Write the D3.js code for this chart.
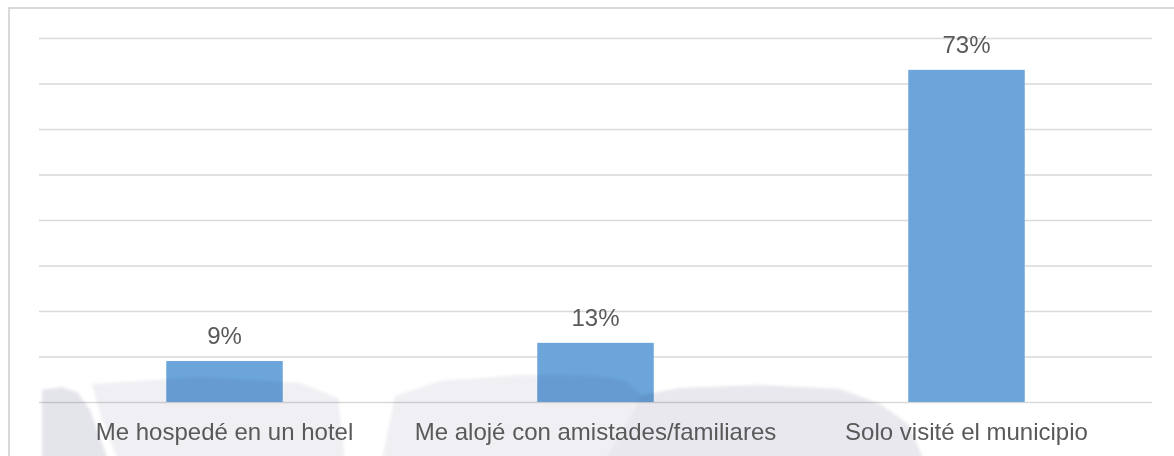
<!DOCTYPE html>
<html>
<head>
<meta charset="utf-8">
<script src="https://cdn.jsdelivr.net/npm/d3@7"></script>
<style>
  html, body { margin: 0; padding: 0; background: #ffffff; }
  svg { display: block; }
</style>
</head>
<body>
<svg id="chart" width="1174" height="456"></svg>
<script>
const categories = ["Me hospedé en un hotel", "Me alojé con amistades/familiares", "Solo visité el municipio"];
const values = [9, 13, 73];
const valueLabels = ["9%", "13%", "73%"];
const yTicks = [0, 10, 20, 30, 40, 50, 60, 70, 80];

const svg = d3.select("#chart");
const W = 1174, H = 456;
const margin = { left: 39, right: W - 1152, top: 38, bottom: H - 402 };

const defs = svg.append("defs");
defs.append("filter").attr("id", "soft")
  .attr("x", "-10%").attr("y", "-10%").attr("width", "120%").attr("height", "130%")
  .append("feGaussianBlur").attr("stdDeviation", 1.5);

// outer border
svg.append("rect")
  .attr("x", 9).attr("y", 8)
  .attr("width", W + 20).attr("height", H + 20)
  .attr("fill", "#ffffff")
  .attr("stroke", "#d9d9d9").attr("stroke-width", 2);

const x = d3.scaleBand()
  .domain(categories)
  .range([margin.left, W - margin.right])
  .paddingInner(0.686)
  .paddingOuter(0.343);

const y = d3.scaleLinear()
  .domain([0, 80])
  .range([H - margin.bottom, margin.top]);

// gridlines
const grid = d3.axisLeft(y)
  .tickValues(yTicks)
  .tickSize(-(W - margin.left - margin.right))
  .tickFormat("");
svg.append("g")
  .attr("transform", `translate(${margin.left},0)`)
  .call(grid)
  .call(g => g.select(".domain").remove())
  .call(g => g.selectAll("line").attr("stroke", "#d9d9d9").attr("stroke-width", 1.3));

// bars
svg.append("g").selectAll("rect")
  .data(values)
  .join("rect")
  .attr("x", (d, i) => x(categories[i]))
  .attr("y", d => y(d))
  .attr("width", x.bandwidth())
  .attr("height", d => y(0) - y(d))
  .attr("fill", "#6ba5da");

// faint watermark shapes, multiplied so they darken what lies beneath
const wm = svg.append("g")
  .attr("pointer-events", "none")
  .attr("filter", "url(#soft)")
  .style("mix-blend-mode", "multiply");
const shapes = [
  { pts: [[42,390],[62,387],[78,393],[90,410],[108,460],[42,460]], fill: "#e4e4eb" },
  { pts: [[92,384],[200,377],[300,383],[338,398],[345,460],[118,460],[102,420]], fill: "#f0f0f4" },
  { pts: [[395,396],[440,381],[520,375],[600,376],[625,381],[642,395],[605,460],[382,460]], fill: "#f0f0f4" },
  { pts: [[642,395],[680,388],[760,385],[840,389],[880,404],[908,424],[924,460],[605,460]], fill: "#e8e8ee" }
];
wm.selectAll("path")
  .data(shapes)
  .join("path")
  .attr("d", d => d3.line()(d.pts) + "Z")
  .attr("fill", d => d.fill);

// value labels
svg.append("g").selectAll("text")
  .data(values)
  .join("text")
  .attr("x", (d, i) => x(categories[i]) + x.bandwidth() / 2)
  .attr("y", d => y(d) - 17)
  .attr("text-anchor", "middle")
  .attr("font-family", "Liberation Sans, Arial, sans-serif")
  .attr("font-size", 24)
  .attr("fill", "#595959")
  .text((d, i) => valueLabels[i]);

// category axis
const xAxis = d3.axisBottom(x).tickSize(0).tickPadding(0);
svg.append("g")
  .attr("transform", `translate(0,${y(0)})`)
  .call(xAxis)
  .call(g => g.select(".domain").remove())
  .call(g => g.selectAll("text")
    .attr("dy", null)
    .attr("y", 38)
    .attr("font-family", "Liberation Sans, Arial, sans-serif")
    .attr("font-size", 24)
    .attr("fill", "#595959"));
</script>
</body>
</html>
